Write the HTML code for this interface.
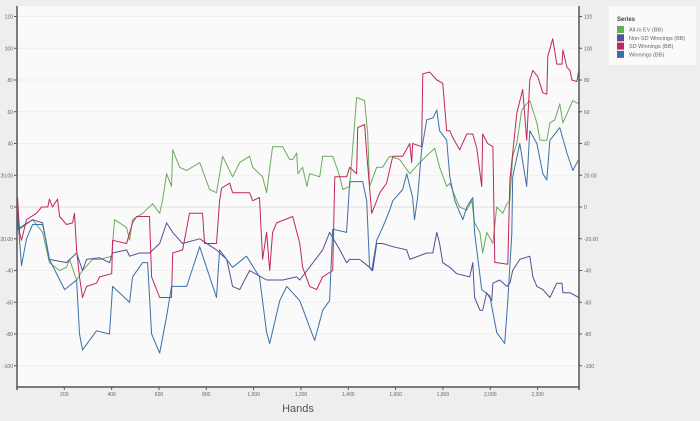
<!DOCTYPE html>
<html><head><meta charset="utf-8"><style>
html,body{margin:0;padding:0;background:#eeeeee;}
body{width:700px;height:416px;overflow:hidden;font-family:"Liberation Sans",sans-serif;}
</style></head><body>
<svg id="chart" width="700" height="416" xmlns="http://www.w3.org/2000/svg">
<rect x="17" y="6" width="562" height="381" fill="#fafafa"/>
<g id="grid"></g><g id="series"></g><g id="axes"></g>
<text x="298" y="412" font-size="11" fill="#555" text-anchor="middle">Hands</text>
<g>
<rect x="609" y="6" width="87" height="59" fill="#fafafa"/>
<text x="617" y="21" font-size="6" font-weight="bold" fill="#444">Series</text>
</g>
<g id="legend"></g>
</svg>
<script>
const yTicks=[120,100,80,60,40,20,0,-20,-40,-60,-80,-100];
const yTickLabels=["120","100","80","60","40","20.00","0","-20.00","-40","-60","-80","-100"];
const xTicks=[200,400,600,800,1000,1200,1400,1600,1800,2000,2200];
const xTickLabels=["200","400","600","800","1,000","1,200","1,400","1,600","1,800","2,000","2,200"];
const seriesNames=["All-In EV (BB)","Non-SD Winnings (BB)","SD Winnings (BB)","Winnings (BB)"];
const evHands=[0,11,66,108,137,180,209,222,252,277,319,349,400,412,463,476,488,531,573,603,615,632,653,658,687,717,772,814,843,869,911,941,983,996,1038,1055,1080,1123,1152,1165,1182,1187,1207,1225,1237,1279,1292,1334,1351,1364,1377,1406,1435,1469,1482,1490,1520,1545,1575,1617,1660,1702,1744,1765,1786,1816,1829,1858,1871,1901,1922,1934,1956,1968,1985,2011,2027,2053,2070,2083,2095,2112,2133,2154,2167,2197,2210,2239,2252,2273,2294,2307,2337,2349,2374];
const evValues=[0,-14,-8,-16,-35,-40,-38,-33,-46,-40,-33,-33,-31,-8,-13,-21,-8,-4,2,-4,4,21,13,36,25,23,28,11,9,32,19,28,32,25,19,9,38,38,30,30,34,21,25,13,21,19,32,32,25,19,11,13,69,67,46,13,25,25,32,30,21,28,34,37,25,13,15,4,0,-2,4,-10,-16,-29,-16,-23,0,-4,2,4,32,40,61,65,67,53,42,42,53,55,65,53,63,67,65];
const nsdHands=[0,2,66,108,137,209,252,277,294,349,391,404,463,476,518,560,603,632,658,700,772,843,886,911,941,983,1055,1123,1182,1195,1292,1321,1364,1393,1406,1448,1490,1503,1520,1545,1588,1647,1660,1732,1757,1774,1786,1799,1829,1858,1913,1926,1934,1956,1968,1985,2006,2011,2040,2070,2083,2095,2125,2167,2180,2197,2222,2252,2281,2303,2307,2337,2374];
const nsdValues=[0,-14,-8,-10,-33,-35,-29,-40,-33,-32,-35,-29,-27,-31,-29,-29,-23,-10,-16,-23,-20,-27,-33,-50,-52,-40,-46,-46,-44,-46,-27,-16,-27,-35,-33,-33,-38,-40,-23,-23,-25,-27,-33,-29,-29,-16,-23,-35,-38,-42,-44,-35,-57,-65,-65,-54,-59,-48,-46,-50,-48,-40,-33,-31,-44,-50,-52,-57,-48,-48,-54,-54,-57];
const sdHands=[0,2,11,19,40,82,104,130,137,150,171,180,209,235,243,252,264,277,294,336,349,400,404,463,488,505,560,569,603,653,658,700,729,784,793,843,856,865,899,911,983,996,1025,1038,1055,1068,1080,1097,1165,1195,1207,1237,1266,1292,1334,1343,1364,1393,1406,1435,1440,1469,1478,1499,1520,1533,1562,1588,1630,1660,1668,1672,1710,1715,1744,1774,1799,1816,1829,1841,1871,1901,1926,1943,1964,1968,1989,2011,2019,2027,2070,2074,2083,2112,2137,2154,2167,2180,2201,2222,2239,2243,2264,2281,2303,2307,2324,2337,2345,2366,2374];
const sdValues=[0,6,-16,-21,-8,-4,0,0,5,0,5,-6,-11,-10,-4,-27,-44,-57,-50,-48,-44,-42,-21,-23,-10,-6,-6,-44,-57,-57,-29,-27,-4,-4,-23,-23,4,12,15,9,9,4,6,-33,-16,-40,-16,-10,-6,-23,-38,-50,-52,-44,-40,19,19,19,25,21,50,52,34,-4,4,9,15,32,32,40,28,40,38,84,85,80,78,48,48,44,36,46,46,37,13,46,40,38,-35,-35,-36,-36,17,59,74,42,80,86,82,72,71,95,106,90,90,99,88,86,80,79,86];
const winHands=[0,19,40,66,108,125,137,201,252,264,277,336,391,404,476,488,531,552,569,603,632,653,717,772,801,843,856,911,970,1025,1055,1068,1110,1140,1195,1245,1258,1292,1321,1334,1393,1406,1461,1478,1490,1499,1520,1545,1575,1588,1630,1647,1672,1680,1693,1710,1732,1757,1774,1786,1816,1829,1850,1884,1901,1926,1934,1964,1998,2027,2061,2074,2091,2095,2125,2154,2167,2197,2222,2239,2252,2294,2324,2349,2374];
const winValues=[0,-37,-20,-11,-11,-23,-33,-52,-46,-80,-90,-78,-80,-50,-60,-44,-35,-35,-80,-92,-69,-50,-50,-25,-38,-57,-27,-38,-31,-44,-79,-86,-59,-50,-59,-79,-84,-65,-59,-14,-16,16,16,4,-38,-40,-21,-13,-2,4,11,21,6,-8,6,36,55,56,61,48,42,19,4,-8,0,6,-16,-52,-56,-79,-86,-59,-17,19,40,13,48,40,21,17,42,50,34,23,30];
const colors=["#6aab5c","#5b4b98","#c1265c","#3c6fa8"];

const NS="http://www.w3.org/2000/svg";
const L=17,R=579,T=6,B=387,XMAX=2375;
function xs(h){return L+h/XMAX*(R-L);}
function ys(v){return 207-v*1.5875;}
function mk(tag,attrs,parent){const e=document.createElementNS(NS,tag);for(const k in attrs)e.setAttribute(k,attrs[k]);parent.appendChild(e);return e;}
const grid=document.getElementById('grid'),axes=document.getElementById('axes'),ser=document.getElementById('series'),leg=document.getElementById('legend');
yTicks.forEach((t,i)=>{
  const y=ys(t);
  const g=mk('line',{x1:L,x2:R,y1:y,y2:y,stroke:t===0?'#dddddd':'#f0f0f0','stroke-width':1},grid);
  
  
  const tl=mk('line',{x1:L-3,x2:L,y1:y,y2:y,stroke:'#555'},axes);
  
  
  const tr=mk('line',{x1:R,x2:R+3,y1:y,y2:y,stroke:'#555'},axes);
  
  
  const a=mk('text',{x:L-4,y:y+2,'font-size':5,fill:'#666','text-anchor':'end'},axes);a.textContent=yTickLabels[i];
  
  
  const b=mk('text',{x:R+5,y:y+2,'font-size':5,fill:'#666'},axes);b.textContent=yTickLabels[i];
  
  
});
xTicks.forEach((t,i)=>{
  const x=xs(t);
  const tk=mk('line',{x1:x,x2:x,y1:B,y2:B+3,stroke:'#555'},axes);
  
  
  const a=mk('text',{x:x,y:B+9,'font-size':5,fill:'#666','text-anchor':'middle'},axes);a.textContent=xTickLabels[i];
  
  
});
const al=mk('line',{x1:L,x2:L,y1:T,y2:B+3,stroke:'#555','stroke-width':1.5},axes);


const ar=mk('line',{x1:R,x2:R,y1:T,y2:B+3,stroke:'#555','stroke-width':1.5},axes);


const ab=mk('line',{x1:L,x2:R,y1:B,y2:B,stroke:'#555','stroke-width':1.5},axes);


const allH=[evHands,nsdHands,sdHands,winHands],allV=[evValues,nsdValues,sdValues,winValues];
const sNames=['series-all-in-ev','series-non-sd-winnings','series-sd-winnings','series-winnings'];
allH.forEach((hs,s)=>{
  const d=hs.map((h,i)=>(i?'L':'M')+xs(h).toFixed(1)+','+ys(allV[s][i]).toFixed(1)).join('');
  const p=mk('path',{d:d,fill:'none',stroke:colors[s],'stroke-width':1,'stroke-linejoin':'round'},ser);
  
  
});
seriesNames.forEach((n,i)=>{
  const y=26+i*8.3;
  const r=mk('rect',{x:617,y:y,width:7,height:7,fill:colors[i]},leg);
  
  
  const t=mk('text',{x:629,y:y+5.5,'font-size':5.5,fill:'#666'},leg);t.textContent=n;
  
  
});
</script>
</body></html>
